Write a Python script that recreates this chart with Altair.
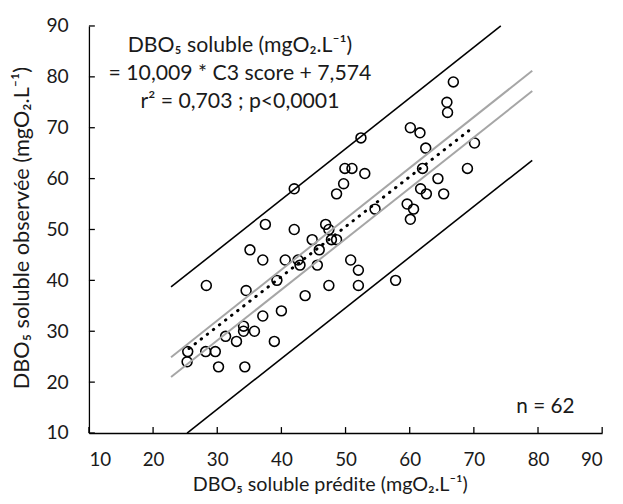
import altair as alt
import pandas as pd

# --- data ---
pred_x = [25.4, 25.3, 28.3, 28.2, 29.7, 30.2, 31.3, 33.0, 34.1, 34.1, 34.3, 34.5,
          35.1, 35.8, 37.1, 37.1, 37.5, 38.9, 39.3, 40.0, 40.6, 42.0, 42.0, 42.6,
          42.9, 43.7, 44.8, 45.6, 45.9, 46.9, 47.4, 47.8, 48.6, 47.4, 48.6, 49.7,
          49.9, 51.0, 53.0, 52.4, 50.8, 52.0, 52.0, 54.6, 57.8, 59.6, 60.6, 60.1,
          60.1, 61.6, 62.5, 62.0, 61.7, 62.6, 64.4, 65.3, 65.8, 65.9, 66.8, 70.1,
          69.0]
obs_y = [26, 24, 39, 26, 26, 23, 29, 28, 31, 30, 23, 38,
         46, 30, 33, 44, 51, 28, 40, 34, 44, 58, 50, 44,
         43, 37, 48, 43, 46, 51, 50, 48, 48, 39, 57, 59,
         62, 62, 61, 68, 44, 42, 39, 54, 40, 55, 54, 52,
         70, 69, 66, 62, 58, 57, 60, 57, 75, 73, 79, 67,
         62]

reg_x = [25.6, 69.2]
reg_y = [26.6, 69.4]
ci_upper_x = [22.8, 79.1]
ci_upper_y = [24.9, 81.2]
ci_lower_x = [22.8, 79.1]
ci_lower_y = [21.0, 77.2]
pi_upper_x = [22.8, 74.2]
pi_upper_y = [38.7, 90.0]
pi_lower_x = [25.3, 79.1]
pi_lower_y = [10.0, 63.6]

tick_values = [10, 20, 30, 40, 50, 60, 70, 80, 90]

annotation_lines = ["DBO₅ soluble (mgO₂.L⁻¹)",
                    "= 10,009 * C3 score + 7,574",
                    "r² = 0,703 ; p<0,0001"]
n_label = "n = 62"
x_title = "DBO₅ soluble prédite (mgO₂.L⁻¹)"
y_title = "DBO₅ soluble observée (mgO₂.L⁻¹)"

# --- chart ---
FONT = "Lato"
TXT = "#1a1a1a"
W, H = 520, 412.4

xs = alt.Scale(domain=[10, 90], nice=False, zero=False)
ys = alt.Scale(domain=[10, 90], nice=False, zero=False)

x_axis = alt.Axis(
    values=tick_values, tickSize=0, grid=False, labelPadding=18,
    labelFontSize=19, labelFont=FONT, labelColor=TXT,
    domainColor="black", domainWidth=1.3,
    title=x_title, titleFont=FONT, titleFontSize=20, titleFontWeight="normal",
    titleColor=TXT, titleX=244, titleY=52, titleAlign="center",
    titleBaseline="middle")
y_axis = alt.Axis(
    values=tick_values, tickSize=0, grid=False, labelPadding=21,
    labelFontSize=19.5, labelFont=FONT, labelColor=TXT,
    domainColor="black", domainWidth=1.3,
    title=y_title, titleFont=FONT, titleFontSize=22, titleFontWeight="normal",
    titleColor=TXT, titleAngle=270, titleX=-68, titleY=H / 2 - 2,
    titleAlign="center", titleBaseline="middle")

pts = pd.DataFrame({"x": pred_x, "y": obs_y})

points = alt.Chart(pts).mark_point(
    shape="circle", filled=False, color="black", size=100, strokeWidth=1.6, opacity=1
).encode(
    x=alt.X("x:Q", scale=xs, axis=x_axis),
    y=alt.Y("y:Q", scale=ys, axis=y_axis),
)


def seg(xv, yv, **mk):
    df = pd.DataFrame({"x": xv, "y": yv})
    return alt.Chart(df).mark_line(**mk).encode(
        x=alt.X("x:Q", scale=xs, axis=x_axis),
        y=alt.Y("y:Q", scale=ys, axis=y_axis),
    )


lines = [
    seg(pi_upper_x, pi_upper_y, color="black", strokeWidth=1.6),
    seg(pi_lower_x, pi_lower_y, color="black", strokeWidth=1.6),
    seg(ci_upper_x, ci_upper_y, color="#a6a6a6", strokeWidth=2),
    seg(ci_lower_x, ci_lower_y, color="#a6a6a6", strokeWidth=2),
    seg(reg_x, reg_y, color="black", strokeWidth=3, strokeDash=[0.5, 7.3],
        strokeCap="round"),
]

tdf = pd.DataFrame({"x": tick_values, "y": tick_values})
xticks = alt.Chart(tdf).mark_rule(color="black", strokeWidth=1.3).encode(
    x=alt.X("x:Q", scale=xs, axis=x_axis), y=alt.value(H), y2=alt.value(H - 6))
yticks = alt.Chart(tdf).mark_rule(color="black", strokeWidth=1.3).encode(
    y=alt.Y("y:Q", scale=ys, axis=y_axis), x=alt.value(0), x2=alt.value(6))

one = pd.DataFrame({"k": [0]})
texts = []
for i, line in enumerate(annotation_lines):
    texts.append(alt.Chart(one).mark_text(
        text=line, font=FONT, fontSize=21.5, color=TXT, align="center",
        baseline="middle").encode(x=alt.value(153), y=alt.value(20 + 28.5 * i)))
texts.append(alt.Chart(one).mark_text(
    text=n_label, font=FONT, fontSize=21, color=TXT, align="right",
    baseline="middle").encode(x=alt.value(492), y=alt.value(386)))

chart = alt.layer(points, *lines, xticks, yticks, *texts).properties(
    width=W, height=H, autosize="none",
    padding={"left": 82, "top": 15, "right": 13, "bottom": 60},
    background="white",
).configure_view(stroke=None)

chart.save("out.html", embed_options={"renderer": "svg", "actions": False})
